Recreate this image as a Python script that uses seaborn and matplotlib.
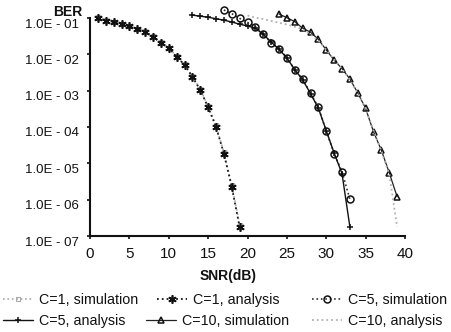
import numpy as np
import pandas as pd
import matplotlib
matplotlib.use("Agg")
import matplotlib.pyplot as plt
from matplotlib.transforms import ScaledTranslation
import seaborn as sns

# ---- data ----
snr_c1 = list(range(1, 20))
ber_c1_analysis = [0.0977, 0.0851, 0.0759, 0.0676, 0.0603, 0.0490, 0.0417, 0.0302,
                   0.0209, 0.0148, 0.00851, 0.00513, 0.00240, 0.00105, 3.47e-4,
                   1.02e-4, 1.86e-5, 2.24e-6, 1.78e-7]
ber_c1_sim = [0.105, 0.088, 0.078, 0.069, 0.062, 0.051, 0.043, 0.031, 0.0215,
              0.0152, 0.0088, 0.0053, 0.0025, 0.0011, 3.7e-4, 1.1e-4, 2.0e-5,
              2.5e-6, 2.0e-7]

snr_c5_sim = list(range(17, 34))
ber_c5_sim = [0.166, 0.132, 0.0977, 0.0759, 0.0575, 0.0355, 0.0209, 0.0141,
              0.00813, 0.00372, 0.00209, 8.51e-4, 3.47e-4, 7.76e-5, 1.86e-5,
              5.89e-6, 1.02e-6]
snr_c5_ana = list(range(13, 34))
ber_c5_ana = [0.120, 0.112, 0.105, 0.0955, 0.0871, 0.0776, 0.0676, 0.0603,
              0.0525, 0.0355, 0.0219, 0.0138, 0.00794, 0.00380, 0.00200,
              8.32e-4, 3.31e-4, 7.94e-5, 1.91e-5, 5.25e-6, 1.78e-7]

snr_c10_sim = list(range(24, 40))
ber_c10_sim = [0.129, 0.102, 0.0794, 0.0525, 0.0407, 0.0257, 0.0132, 0.00692,
               0.00407, 0.00209, 8.71e-4, 3.24e-4, 7.41e-5, 2.29e-5, 5.50e-6,
               1.20e-6]
snr_c10_ana = list(range(20, 40))
ber_c10_ana = [0.117, 0.102, 0.0933, 0.0832, 0.0741, 0.0661, 0.0575, 0.0490,
               0.0355, 0.0240, 0.0132, 0.00724, 0.00398, 0.00200, 8.51e-4,
               3.16e-4, 7.94e-5, 2.19e-5, 5.01e-6, 1.78e-7]

labels = ["C=1, simulation", "C=1, analysis", "C=5, simulation",
          "C=5, analysis", "C=10, simulation", "C=10, analysis"]
x_ticks = [0, 5, 10, 15, 20, 25, 30, 35, 40]
y_ticks = [1e-1, 1e-2, 1e-3, 1e-4, 1e-5, 1e-6, 1e-7]
y_ticklabels = ["1.0E - 01", "1.0E - 02", "1.0E - 03", "1.0E - 04",
                "1.0E - 05", "1.0E - 06", "1.0E - 07"]

# ---- style ----
sns.set_theme(style="white")
plt.rcParams["font.family"] = ["Liberation Sans", "DejaVu Sans"]
plt.rcParams["text.color"] = "#111111"

fig = plt.figure(figsize=(4.51, 3.32), dpi=100)
ax = fig.add_axes([90 / 451, 1 - 236 / 332, 315 / 451, 218 / 332])

series = [
    (snr_c1, ber_c1_sim, dict(color="#a8a8a8", linestyle=":", linewidth=1.2,
                              marker="s", markersize=3, markerfacecolor="none",
                              markeredgecolor="#a8a8a8", markeredgewidth=0.8)),
    (snr_c1, ber_c1_analysis, dict(color="#1a1a1a", linestyle=":", linewidth=1.3,
                                   marker=(6, 2, 0), markersize=6,
                                   markeredgewidth=1.2, markeredgecolor="#111111")),
    (snr_c5_sim, ber_c5_sim, dict(color="#333333", linestyle=":", linewidth=1.2,
                                  marker="o", markersize=5, markerfacecolor="none",
                                  markeredgecolor="#111111", markeredgewidth=1.1)),
    (snr_c5_ana, ber_c5_ana, dict(color="#111111", linestyle="-", linewidth=1.0,
                                  marker="+", markersize=5, markeredgewidth=1.1,
                                  markeredgecolor="#111111")),
    (snr_c10_sim, ber_c10_sim, dict(color="#222222", linestyle="-", linewidth=0.9,
                                    marker="^", markersize=5, markerfacecolor="none",
                                    markeredgecolor="#111111", markeredgewidth=1.1)),
    (snr_c10_ana, ber_c10_ana, dict(color="#b0b0b0", linestyle=":", linewidth=1.3)),
]

for (xs, ys, kw), lab in zip(series, labels):
    sns.lineplot(x=xs, y=ys, ax=ax, label=lab, clip_on=False, **kw)

if ax.get_legend() is not None:
    ax.get_legend().remove()

ax.set_yscale("log")
ax.set_ylim(1e-7, 1e-1)
ax.set_xlim(0, 40)
ax.set_xticks(x_ticks)
ax.set_xticklabels([str(t) for t in x_ticks], fontsize=11)
ax.set_yticks(y_ticks)
ax.set_yticklabels(y_ticklabels, fontsize=9.5)
ax.yaxis.set_minor_locator(matplotlib.ticker.NullLocator())
ax.set_xlabel("")
ax.set_ylabel("")

for side in ["top", "right"]:
    ax.spines[side].set_visible(False)
for side in ["left", "bottom"]:
    ax.spines[side].set_color("#111111")
    ax.spines[side].set_linewidth(1.5)
ax.tick_params(axis="both", which="major", direction="out", length=2.5,
               width=1.2, color="#111111", labelcolor="#111111", left=True,
               bottom=True)
ax.tick_params(axis="y", pad=5.5)
ax.tick_params(axis="x", pad=5.5)

shift = ScaledTranslation(0, -5 / 100, fig.dpi_scale_trans)
for lbl in ax.get_yticklabels():
    lbl.set_transform(lbl.get_transform() + shift)

fig.text(82 / 451, 1 - 12 / 332, "BER", ha="right", va="center",
         fontsize=10, fontweight="bold")
fig.text(228 / 451, 1 - 276 / 332, "SNR(dB)", ha="center", va="center",
         fontsize=10, fontweight="bold")

# legend: one entry per small legend so that each sits where it does in the reference
handles, labs = ax.get_legend_handles_labels()
hmap = dict(zip(labs, handles))
entry_pos = {
    "C=1, simulation": (3, 300), "C=1, analysis": (157, 300),
    "C=5, simulation": (312, 300),
    "C=5, analysis": (3, 321), "C=10, simulation": (146, 321),
    "C=10, analysis": (312, 321),
}
for lab in labels:
    px, py = entry_pos[lab]
    fig.legend([hmap[lab]], [lab], loc="center left",
               bbox_to_anchor=(px / 451, 1 - py / 332), frameon=False,
               fontsize=10.3, handlelength=2.1, handletextpad=0.4,
               borderpad=0, borderaxespad=0)

fig.savefig("out.png", dpi=100, facecolor="white")
